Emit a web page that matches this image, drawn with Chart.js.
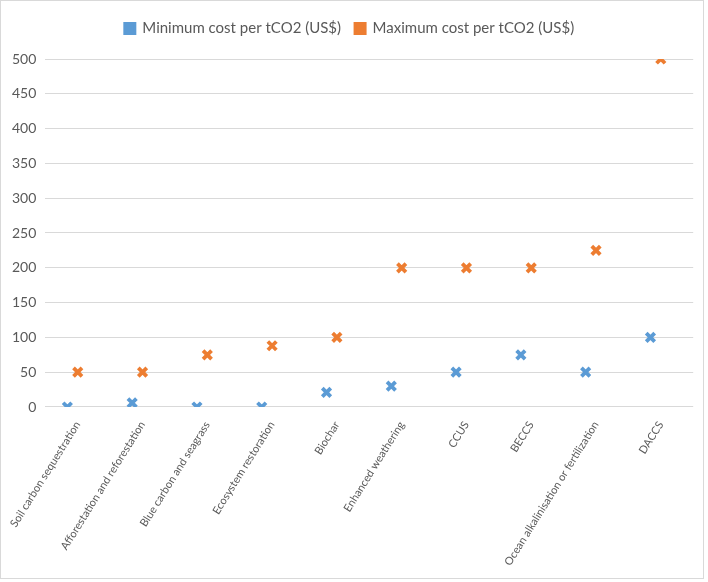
<!DOCTYPE html>
<html>
<head>
<meta charset="utf-8">
<script src="https://cdn.jsdelivr.net/npm/chart.js@4.4.1/dist/chart.umd.min.js"></script>
<style>
  body { margin: 0; background: #fff; }
  #box { width: 702px; height: 577px; border: 1px solid #d9d9d9; position: relative; }
</style>
</head>
<body>
<div id="box"><canvas id="myChart"></canvas></div>
<script>
// categories and the two cost series (US$ per tCO2)
const categories = [
    'Soil carbon sequestration',
    'Afforestation and reforestation',
    'Blue carbon and seagrass',
    'Ecosystem restoration',
    'Biochar',
    'Enhanced weathering',
    'CCUS',
    'BECCS',
    'Ocean alkalinisation or fertilization',
    'DACCS'
];
const minCost = [0, 6, 0, 0, 21, 30, 50, 75, 50, 100];
const maxCost = [50, 50, 75, 88, 100, 200, 200, 200, 225, 500];
const seriesNames = ['Minimum cost per tCO2 (US$)', 'Maximum cost per tCO2 (US$)'];
const yMin = 0, yMax = 500, yStep = 50;

const blue = '#5b9bd5';
const orange = '#ed7d31';
const textGrey = '#595959';

// extra room under the legend
const legendGap = {
    id: 'legendGap',
    beforeInit(chart) {
        const fit = chart.legend.fit;
        chart.legend.fit = function () {
            fit.call(this);
            this.height += 13;
        };
    }
};

const data = {
    labels: categories,
    datasets: [{
        label: seriesNames[0],
        data: minCost.map((v, i) => ({ x: i, y: v })),
        xAxisID: 'xMin',
        showLine: false,
        pointStyle: 'crossRot',
        pointRadius: 6,
        pointHoverRadius: 6,
        pointBorderWidth: 3.8,
        borderColor: blue,
        backgroundColor: blue,
        clip: 0
    }, {
        label: seriesNames[1],
        data: maxCost,
        xAxisID: 'x',
        showLine: false,
        pointStyle: 'crossRot',
        pointRadius: 6,
        pointHoverRadius: 6,
        pointBorderWidth: 3.8,
        borderColor: orange,
        backgroundColor: orange,
        clip: 0
    }]
};

const config = {
    type: 'line',
    data,
    plugins: [legendGap],
    options: {
        responsive: false,
        animation: false,
        layout: { padding: { left: 2, right: 7, top: 6, bottom: 6 } },
        plugins: {
            legend: {
                position: 'top',
                labels: {
                    boxWidth: 10,
                    boxHeight: 10,
                    color: textGrey,
                    font: { family: 'Lato', size: 15 },
                    padding: 14
                }
            },
            tooltip: { enabled: false }
        },
        scales: {
            x: {
                type: 'category',
                offset: true,
                grid: { display: false },
                border: { display: false },
                ticks: {
                    color: textGrey,
                    font: { family: 'Lato', size: 11 },
                    minRotation: 58,
                    maxRotation: 58,
                    autoSkip: false,
                    padding: 4
                }
            },
            xMin: {
                type: 'linear',
                display: false,
                min: -0.34,
                max: 9.66
            },
            y: {
                min: yMin,
                max: yMax,
                grid: { color: '#d9d9d9', drawTicks: false },
                border: { display: false },
                ticks: {
                    stepSize: yStep,
                    color: textGrey,
                    font: { family: 'Lato', size: 14 },
                    padding: 9
                }
            }
        }
    }
};

const canvas = document.getElementById('myChart');
canvas.width = 702;
canvas.height = 577;
const myChart = new Chart(canvas, config);
</script>
</body>
</html>
